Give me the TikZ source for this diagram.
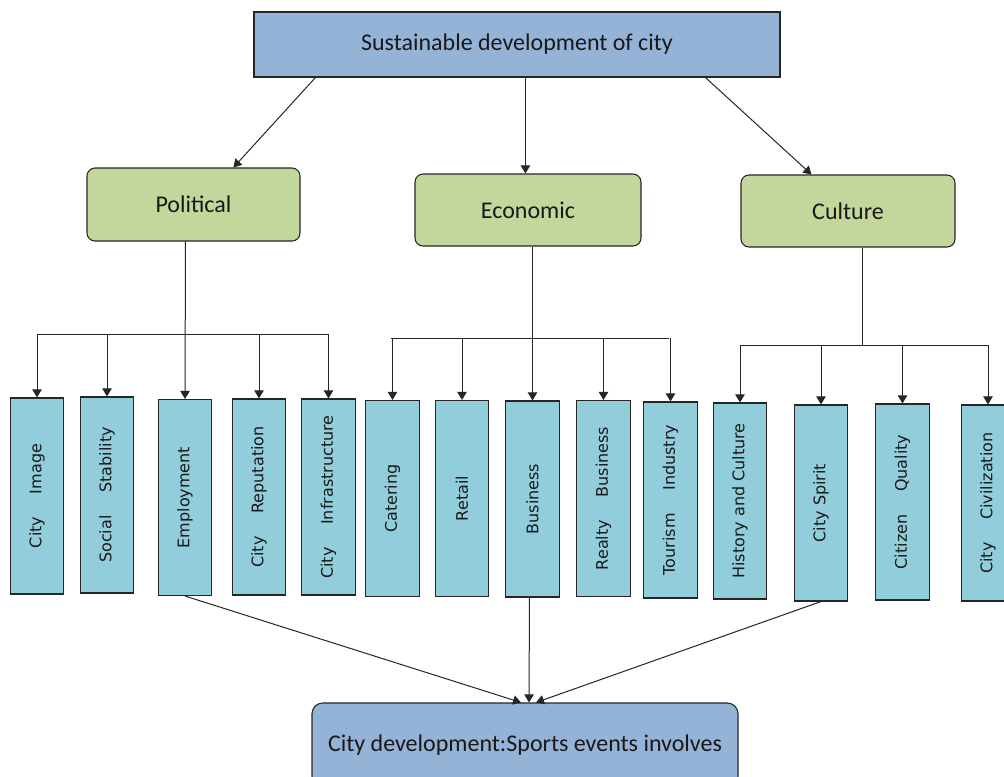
\documentclass[tikz,border=0pt]{standalone}
\usepackage{fontspec}
\usepackage{graphicx}
\setmainfont{Carlito}
\newfontfamily\vfont{DejaVu Sans}
\usetikzlibrary{arrows.meta,calc}
\definecolor{topblue}{HTML}{95B3D7}
\definecolor{leafgreen}{HTML}{C3D69B}
\definecolor{leafblue}{HTML}{92CDDC}
\newcommand{\vlabel}[1]{\rotatebox{90}{#1}}
\newcommand{\wgap}{\hspace{17pt}}
\begin{document}
\begin{tikzpicture}[x=0.75pt,y=-0.75pt,
  headbox/.style={draw=black!85, line width=0.8pt, fill=topblue, text=black!90,
    font=\fontsize{18}{20}\selectfont, inner sep=0pt},
  catbox/.style={draw=black!85, line width=0.8pt, fill=leafgreen, text=black!90,
    rounded corners=6pt, font=\fontsize{18}{20}\selectfont, inner sep=0pt},
  leaf/.style={draw=black!85, line width=0.8pt, fill=leafblue, text=black!90,
    minimum width=40pt, minimum height=147pt, inner sep=0pt,
    font=\vfont\fontsize{12}{14}\selectfont},
  link/.style={draw=black!85, line width=0.75pt},
  arr/.style={link, -{Triangle[length=6pt,width=7pt]}},
]
\clip (0,0) rectangle (1004,776);
\fill[white] (0,0) rectangle (1004,776);

% top
\node[headbox, minimum width=394.5pt, minimum height=48.75pt] (top) at (517,44.5) {Sustainable development of city};

% categories
\node[catbox, minimum width=159.75pt, minimum height=54.75pt] (pol) at (193.5,204.5) {Political};
\node[catbox, minimum width=169.5pt, minimum height=54pt] (eco) at (528,210) {Economic};
\node[catbox, minimum width=160.5pt, minimum height=54pt] (cul) at (848,211) {Culture};

% leaves - political
\node[leaf] (ci)  at (37,496)    {\vlabel{City\wgap Image}};
\node[leaf] (ss)  at (107,495)   {\vlabel{Social\wgap Stability}};
\node[leaf] (em)  at (185,497.5) {\vlabel{Employment}};
\node[leaf] (cr)  at (259,497)   {\vlabel{City\wgap Reputation}};
\node[leaf] (inf) at (328.5,497) {\vlabel{City\wgap Infrastructure}};
% leaves - economic
\node[leaf] (cat) at (392.5,498.5) {\vlabel{Catering}};
\node[leaf] (ret) at (462,498.5)   {\vlabel{Retail}};
\node[leaf] (bus) at (532.5,499)   {\vlabel{Business}};
\node[leaf] (rea) at (603.5,498.5) {\vlabel{Realty\wgap Business}};
\node[leaf] (tou) at (670.5,500)   {\vlabel{Tourism\wgap Industry}};
% leaves - culture
\node[leaf] (hc)  at (740,501)   {\vlabel{History and Culture}};
\node[leaf] (cs)  at (821,503)   {\vlabel{City Spirit}};
\node[leaf] (cq)  at (902.5,502) {\vlabel{Citizen\wgap Quality}};
\node[leaf] (cc)  at (988,503)   {\vlabel{City\wgap Civilization}};

% bottom
\node[headbox, rounded corners=8pt, minimum width=319.5pt, minimum height=63pt] (bot) at (525,745) {City development:Sports events involves};

% top to categories
\coordinate (tP) at ($(top.south west)+(62,0)$);
\coordinate (tE) at ($(top.south west)+(272,0)$);
\coordinate (tC) at ($(top.south west)+(452,0)$);
\draw[arr] (tP) -- ($(pol.north west)+(147,0)$);
\draw[arr] (tE) -- (tE |- eco.north);
\draw[arr] (tC) -- ($(cul.north west)+(71,0)$);

% political bus
\coordinate (pbL) at (37,334);
\coordinate (pbR) at (329,334);
\draw[link] (pbL) -- (pbR);
\draw[arr] ($(pol.south)+(-8,0)$) -- (em.north);
\draw[arr] (pbL) -- (ci.north);
\draw[arr] (ss.north |- pbL) -- (ss.north);
\draw[arr] (cr.north |- pbL) -- (cr.north);
\draw[arr] (inf.north |- pbL) -- (inf.north);

% economic bus
\coordinate (ebL) at (391,338);
\coordinate (ebR) at (669,338);
\draw[link] (ebL) -- (ebR);
\draw[arr] (eco.south -| bus.north) -- (bus.north);
\draw[arr] (cat.north |- ebL) -- (cat.north);
\draw[arr] (ret.north |- ebL) -- (ret.north);
\draw[arr] (rea.north |- ebL) -- (rea.north);
\draw[arr] (tou.north |- ebL) -- (tou.north);

% culture bus
\coordinate (cbL) at (740,345);
\coordinate (cbR) at (989,345);
\coordinate (cS) at ($(cul.south)+(14,0)$);
\draw[link] (cS) -- (cS |- cbL);
\draw[link] (cbL) -- (cbR);
\draw[arr] (hc.north |- cbL) -- (hc.north);
\draw[arr] (cs.north |- cbL) -- (cs.north);
\draw[arr] (cq.north |- cbL) -- (cq.north);
\draw[arr] (cc.north |- cbL) -- (cc.north);

% to bottom
\draw[arr] (em.south) -- ($(bot.north)+(-4,0)$);
\draw[arr] ($(bus.south)+(-3,0)$) -- ($(bot.north)+(4,0)$);
\draw[arr] (cs.south) -- ($(bot.north)+(11,0)$);
\end{tikzpicture}
\end{document}
